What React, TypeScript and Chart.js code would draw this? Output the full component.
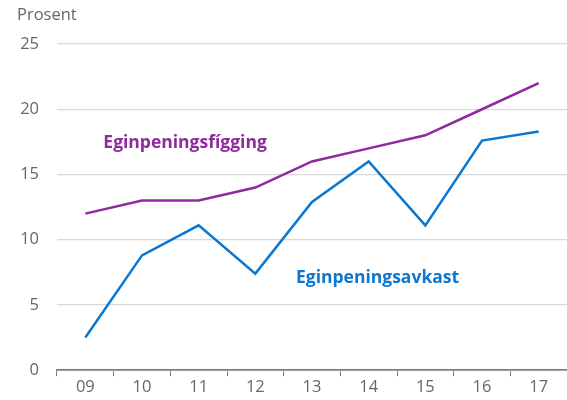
import React, { useEffect, useRef } from "react";
import { Chart, registerables } from "chart.js";

Chart.register(...registerables);

const categories = ["09", "10", "11", "12", "13", "14", "15", "16", "17"];
const eginpeningsfigging = [12, 13, 13, 14, 16, 17, 18, 20, 22];
const eginpeningsavkast = [2.5, 8.8, 11.1, 7.4, 12.9, 16.0, 11.1, 17.6, 18.3];
const yTicks = [0, 5, 10, 15, 20, 25];

const PURPLE = "#8e2a9e";
const BLUE = "#0a78d2";
const FONT = "'Open Sans', 'Noto Sans', sans-serif";

const labelsPlugin = {
  id: "labelsPlugin",
  afterDraw(chart: any) {
    const ctx = chart.ctx;
    const x = chart.scales.x;
    const y = chart.scales.y;
    ctx.save();
    ctx.fillStyle = "#666";
    ctx.font = `16.5px ${FONT}`;
    ctx.textAlign = "left";
    ctx.textBaseline = "middle";
    ctx.fillText("Prosent", 17, 15);

    ctx.font = `bold 17.5px ${FONT}`;
    ctx.fillStyle = PURPLE;
    ctx.textAlign = "left";
    ctx.fillText("Eginpeningsfígging", x.getPixelForValue(0) + 18, y.getPixelForValue(17.4));
    ctx.fillStyle = BLUE;
    ctx.fillText("Eginpeningsavkast", x.getPixelForValue(4) - 16, y.getPixelForValue(7.1));
    ctx.restore();
  },
};

export default function App() {
  const ref = useRef<HTMLCanvasElement>(null);
  useEffect(() => {
    document.body.style.margin = "0";
    const chart = new Chart(ref.current!, {
      type: "line",
      data: {
        labels: categories,
        datasets: [
          {
            data: eginpeningsfigging,
            borderColor: PURPLE,
            borderWidth: 2.5,
            pointRadius: 0,
            tension: 0,
          },
          {
            data: eginpeningsavkast,
            borderColor: BLUE,
            borderWidth: 2.5,
            pointRadius: 0,
            tension: 0,
          },
        ],
      },
      options: {
        animation: false,
        responsive: false,
        maintainAspectRatio: false,
        layout: { padding: { top: 44, right: 0, left: 20, bottom: 2 } },
        plugins: { legend: { display: false }, tooltip: { enabled: false } },
        scales: {
          x: {
            offset: true,
            grid: {
              offset: true,
              drawOnChartArea: false,
              drawTicks: true,
              tickLength: 6,
              color: "#777",
              lineWidth: 1,
            },
            border: { display: true, color: "#777", width: 1.5 },
            ticks: { color: "#666", font: { size: 16.5, family: FONT }, padding: 1 },
          },
          y: {
            min: 0,
            max: 25,
            afterBuildTicks: (axis: any) => {
              axis.ticks = yTicks.map((v) => ({ value: v }));
            },
            afterFit: (axis: any) => {
              axis.width = 37;
            },
            grid: { drawTicks: false, color: "#d9d9d9", lineWidth: 1.2 },
            border: { display: false },
            ticks: { color: "#666", font: { size: 16.5, family: FONT }, padding: 18 },
          },
        },
      },
      plugins: [labelsPlugin],
    });
    return () => chart.destroy();
  }, []);
  return (
    <div style={{ width: 567, height: 400, position: "relative" }}>
      <canvas ref={ref} width={567} height={400} />
    </div>
  );
}
